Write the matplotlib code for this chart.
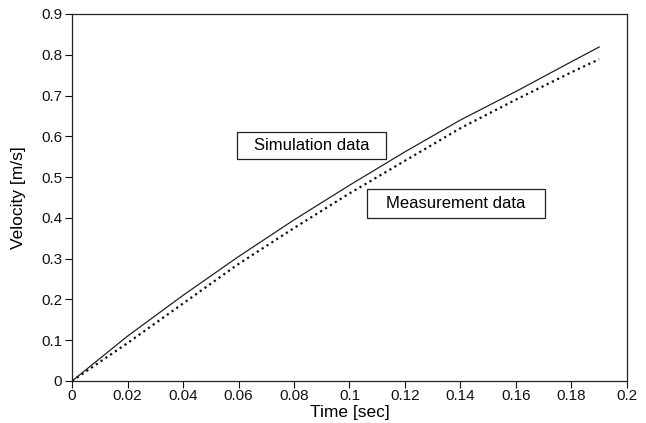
import matplotlib
matplotlib.use("Agg")
import matplotlib.pyplot as plt
from matplotlib.patches import Rectangle

plt.rcParams['font.family'] = ['Liberation Sans', 'DejaVu Sans']

time_sim = [0, 0.02, 0.04, 0.06, 0.08, 0.10, 0.12, 0.14, 0.16, 0.18, 0.19]
vel_sim = [0, 0.11, 0.21, 0.305, 0.395, 0.48, 0.562, 0.64, 0.71, 0.783, 0.819]
time_meas = [0, 0.02, 0.04, 0.06, 0.08, 0.10, 0.12, 0.14, 0.16, 0.18, 0.19]
vel_meas = [0, 0.093, 0.19, 0.287, 0.375, 0.46, 0.54, 0.62, 0.69, 0.757, 0.789]

xticks = [0, 0.02, 0.04, 0.06, 0.08, 0.1, 0.12, 0.14, 0.16, 0.18, 0.2]
xticklabels = ['0', '0.02', '0.04', '0.06', '0.08', '0.1', '0.12', '0.14', '0.16', '0.18', '0.2']
yticks = [0, 0.1, 0.2, 0.3, 0.4, 0.5, 0.6, 0.7, 0.8, 0.9]
yticklabels = ['0', '0.1', '0.2', '0.3', '0.4', '0.5', '0.6', '0.7', '0.8', '0.9']

fig = plt.figure(figsize=(6.46, 4.23), dpi=100)
ax = fig.add_axes([0.1115, 0.0993, 0.859, 0.8677])

ax.plot(time_sim, vel_sim, color='#222222', lw=0.9, ls='-')
ax.plot(time_meas, vel_meas, color='#111111', lw=1.6, ls=(0, (1, 1.6)))

ax.set_xlim(0, 0.2)
ax.set_ylim(0, 0.9)
ax.set_xticks(xticks)
ax.set_xticklabels(xticklabels)
ax.set_yticks(yticks)
ax.set_yticklabels(yticklabels)
ax.tick_params(axis='both', labelsize=11, length=5, width=0.8, direction='out', colors='#111111')
ax.tick_params(axis='x', pad=1)
ax.tick_params(axis='y', pad=2)
for s in ax.spines.values():
    s.set_linewidth(0.9)
    s.set_color('#222222')

ax.set_xlabel('Time [sec]', fontsize=12.5, labelpad=1)
ax.set_ylabel('Velocity [m/s]', fontsize=12.5, labelpad=11)

# annotation boxes (label frames)
ax.add_patch(Rectangle((0.0595, 0.5444), 0.0537, 0.0662, fc='white', ec='#222222', lw=0.9, zorder=3))
ax.text(0.08635, 0.5775, 'Simulation data', fontsize=12, ha='center', va='center', zorder=4)
ax.add_patch(Rectangle((0.1063, 0.3997), 0.0642, 0.0711, fc='white', ec='#222222', lw=0.9, zorder=3))
ax.text(0.1384, 0.4352, 'Measurement data', fontsize=12, ha='center', va='center', zorder=4)

fig.savefig('out.png', dpi=100)
